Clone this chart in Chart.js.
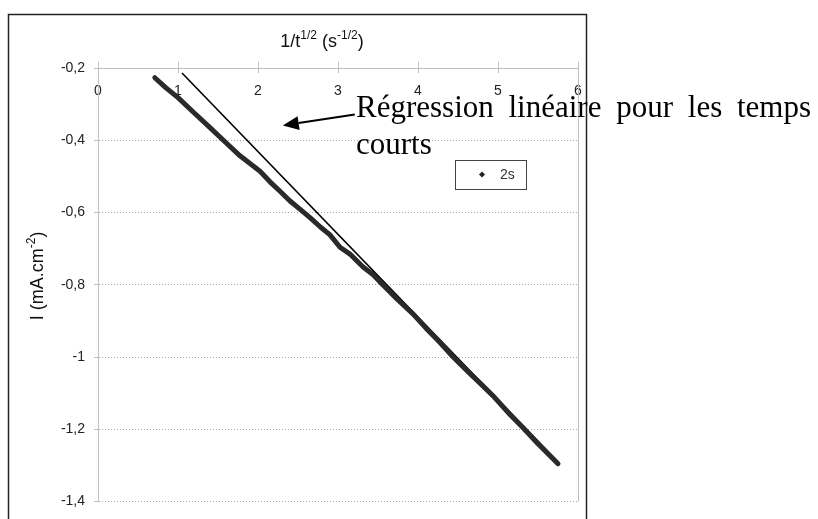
<!DOCTYPE html>
<html lang="fr">
<head>
<meta charset="utf-8">
<title>Chronoampérométrie - I en fonction de 1/t^1/2</title>
<script src="https://cdn.jsdelivr.net/npm/chart.js@4.4.1/dist/chart.umd.min.js"></script>
<style>
  html, body { margin: 0; padding: 0; background: #ffffff; }
  #wrap { width: 818px; height: 519px; }
</style>
</head>
<body>
<div id="wrap"><canvas id="chart" width="818" height="519"></canvas></div>
<script>
(function () {
  'use strict';

  // Courant mesuré (pulse de 2 s) en fonction de 1/t^1/2
  const xValues = [0.71, 0.85, 1.0, 1.2, 1.4, 1.6, 1.775, 2.025, 2.15, 2.275, 2.4, 2.52, 2.65, 2.78, 2.9,
    3.025, 3.15, 3.31, 3.44, 3.56, 3.74, 3.94, 4.1, 4.275, 4.44, 4.6, 4.775, 4.95, 5.15, 5.31, 5.5, 5.75];
  const iValues = [-0.227, -0.255, -0.282, -0.324, -0.365, -0.407, -0.443, -0.486, -0.515, -0.541, -0.568, -0.59, -0.614, -0.64, -0.662,
    -0.696, -0.715, -0.75, -0.772, -0.8, -0.84, -0.881, -0.92, -0.96, -1.0, -1.035, -1.072, -1.11, -1.159, -1.195, -1.24, -1.295];

  // Droite de régression linéaire (temps courts)
  const fitX = [1.05, 5.75];
  const fitI = [-0.214, -1.29];

  const xTicks = [0, 1, 2, 3, 4, 5, 6];
  const yTicks = [-0.2, -0.4, -0.6, -0.8, -1.0, -1.2, -1.4];
  const seriesLabel = '2s';

  // Flèche et texte de l'annotation (coordonnées du graphe)
  const arrowFrom = [3.21, -0.329];
  const arrowTo = [2.31, -0.359];
  const noteLines = ['Régression linéaire pour les temps', 'courts'];
  const noteAt = [3.225, -0.336];

  const SANS = '"Liberation Sans", Arial, sans-serif';
  const SERIF = '"Liberation Serif", "Times New Roman", serif';
  const fmt = (v) => String(Math.round(v * 10) / 10).replace('.', ',');

  // texte avec exposants : [{t: '...', sup: bool}]
  function drawRich(ctx, parts, x, y, size) {
    const supSize = Math.round(size * 0.68);
    let total = 0;
    parts.forEach((p) => {
      ctx.font = `${p.sup ? supSize : size}px ${SANS}`;
      p.w = ctx.measureText(p.t).width;
      total += p.w;
    });
    let cx = x - total / 2;
    ctx.textAlign = 'left';
    ctx.textBaseline = 'alphabetic';
    parts.forEach((p) => {
      ctx.font = `${p.sup ? supSize : size}px ${SANS}`;
      ctx.fillText(p.t, cx, p.sup ? y - size * 0.42 : y);
      cx += p.w;
    });
  }

  const decorations = {
    id: 'decorations',
    beforeDraw(chart) {
      const ctx = chart.ctx;
      ctx.save();
      ctx.fillStyle = '#ffffff';
      ctx.fillRect(0, 0, chart.width, chart.height);
      ctx.restore();
    },
    beforeDatasetsDraw(chart) {
      const { ctx, chartArea: a, scales: { x } } = chart;
      ctx.save();
      ctx.strokeStyle = '#c0c0c0';
      ctx.lineWidth = 1;
      // bord droit de la zone de tracé
      ctx.beginPath();
      ctx.moveTo(Math.round(a.right) + 0.5, a.top);
      ctx.lineTo(Math.round(a.right) + 0.5, a.bottom);
      ctx.stroke();
      // graduations qui traversent l'axe des x
      xTicks.forEach((v) => {
        const px = Math.round(x.getPixelForValue(v)) + 0.5;
        ctx.beginPath();
        ctx.moveTo(px, a.top);
        ctx.lineTo(px, a.top + 5);
        ctx.stroke();
      });
      ctx.restore();
    },
    afterDraw(chart) {
      const { ctx, chartArea: a, scales: { x, y } } = chart;
      ctx.save();

      // cadre du graphique
      ctx.strokeStyle = '#222222';
      ctx.lineWidth = 1.5;
      ctx.strokeRect(8.5, 14.5, 578, 520);

      // titres des axes
      ctx.fillStyle = '#111111';
      drawRich(ctx, [
        { t: '1/t' }, { t: '1/2', sup: true }, { t: ' (s' }, { t: '-1/2', sup: true }, { t: ')' }
      ], (a.left + a.right) / 2 - 16, 47, 18);

      ctx.save();
      ctx.translate(43, (a.top + a.bottom) / 2 - 9);
      ctx.rotate(-Math.PI / 2);
      drawRich(ctx, [{ t: 'I (mA.cm' }, { t: '-2', sup: true }, { t: ')' }], 0, 0, 18);
      ctx.restore();

      // légende
      const lx = a.left + 357, ly = a.top + 92, lw = 71, lh = 29;
      ctx.fillStyle = '#ffffff';
      ctx.fillRect(lx, ly, lw, lh);
      ctx.strokeStyle = '#444444';
      ctx.lineWidth = 1;
      ctx.strokeRect(lx + 0.5, ly + 0.5, lw, lh);
      const mx = lx + 27, my = ly + lh / 2;
      ctx.fillStyle = '#222222';
      ctx.beginPath();
      ctx.moveTo(mx, my - 3);
      ctx.lineTo(mx + 3, my);
      ctx.lineTo(mx, my + 3);
      ctx.lineTo(mx - 3, my);
      ctx.closePath();
      ctx.fill();
      ctx.font = `14px ${SANS}`;
      ctx.textAlign = 'left';
      ctx.textBaseline = 'middle';
      ctx.fillStyle = '#333333';
      ctx.fillText(chart.data.datasets[0].label, lx + 45, my + 1);

      // flèche vers la droite de régression
      const fx = x.getPixelForValue(arrowFrom[0]), fy = y.getPixelForValue(arrowFrom[1]);
      const tx = x.getPixelForValue(arrowTo[0]), ty = y.getPixelForValue(arrowTo[1]);
      const ang = Math.atan2(ty - fy, tx - fx);
      const head = 16, half = 7;
      const bx = tx - head * Math.cos(ang), by = ty - head * Math.sin(ang);
      ctx.strokeStyle = '#000000';
      ctx.fillStyle = '#000000';
      ctx.lineWidth = 2;
      ctx.beginPath();
      ctx.moveTo(fx, fy);
      ctx.lineTo(bx, by);
      ctx.stroke();
      ctx.beginPath();
      ctx.moveTo(tx, ty);
      ctx.lineTo(bx + half * Math.sin(ang), by - half * Math.cos(ang));
      ctx.lineTo(bx - half * Math.sin(ang), by + half * Math.cos(ang));
      ctx.closePath();
      ctx.fill();

      // texte justifié de l'annotation
      const nx = x.getPixelForValue(noteAt[0]);
      const ny = y.getPixelForValue(noteAt[1]);
      const boxW = 455;
      ctx.font = `31px ${SERIF}`;
      ctx.textBaseline = 'alphabetic';
      ctx.textAlign = 'left';
      noteLines.forEach((line, li) => {
        const words = line.split(' ');
        const by2 = ny + li * 37;
        if (li === noteLines.length - 1 || words.length < 2) {
          ctx.fillText(line, nx, by2);
          return;
        }
        const widths = words.map((w) => ctx.measureText(w).width);
        const gap = (boxW - widths.reduce((s, w) => s + w, 0)) / (words.length - 1);
        let cx = nx;
        words.forEach((w, wi) => {
          ctx.fillText(w, cx, by2);
          cx += widths[wi] + gap;
        });
      });

      ctx.restore();
    }
  };

  new Chart(document.getElementById('chart'), {
    type: 'scatter',
    data: {
      datasets: [
        {
          label: seriesLabel,
          data: xValues.map((v, k) => ({ x: v, y: iValues[k] })),
          showLine: true,
          borderColor: '#2a2a2a',
          borderWidth: 5,
          borderCapStyle: 'round',
          borderJoinStyle: 'round',
          pointRadius: 0,
          tension: 0
        },
        {
          label: 'Régression linéaire',
          data: fitX.map((v, k) => ({ x: v, y: fitI[k] })),
          showLine: true,
          borderColor: '#000000',
          borderWidth: 1.6,
          pointRadius: 0
        }
      ]
    },
    options: {
      responsive: false,
      animation: false,
      devicePixelRatio: 1,
      layout: { padding: { left: 8, top: 14, right: 240, bottom: 10 } },
      plugins: {
        legend: { display: false },
        tooltip: { enabled: false }
      },
      scales: {
        x: {
          type: 'linear',
          position: 'top',
          min: 0,
          max: 6,
          afterBuildTicks: (s) => { s.ticks = xTicks.map((v) => ({ value: v })); },
          afterFit: (s) => { s.height = 54; },
          ticks: {
            mirror: true,
            padding: 15,
            color: '#222222',
            font: { family: SANS, size: 14 },
            callback: (v) => fmt(v)
          },
          grid: { drawOnChartArea: false, color: '#c0c0c0', tickLength: 6 },
          border: { color: '#c0c0c0', width: 1 }
        },
        y: {
          type: 'linear',
          position: 'left',
          min: -1.4,
          max: -0.2,
          afterBuildTicks: (s) => { s.ticks = yTicks.map((v) => ({ value: v })); },
          afterFit: (s) => { s.width = 90; },
          ticks: {
            padding: 9,
            color: '#222222',
            font: { family: SANS, size: 14 },
            callback: (v) => fmt(v)
          },
          grid: {
            color: '#a8a8a8',
            tickLength: 4,
            tickColor: '#c0c0c0'
          },
          border: { color: '#c0c0c0', width: 1, dash: [1, 2] }
        }
      }
    },
    plugins: [decorations]
  });
})();
</script>
</body>
</html>
